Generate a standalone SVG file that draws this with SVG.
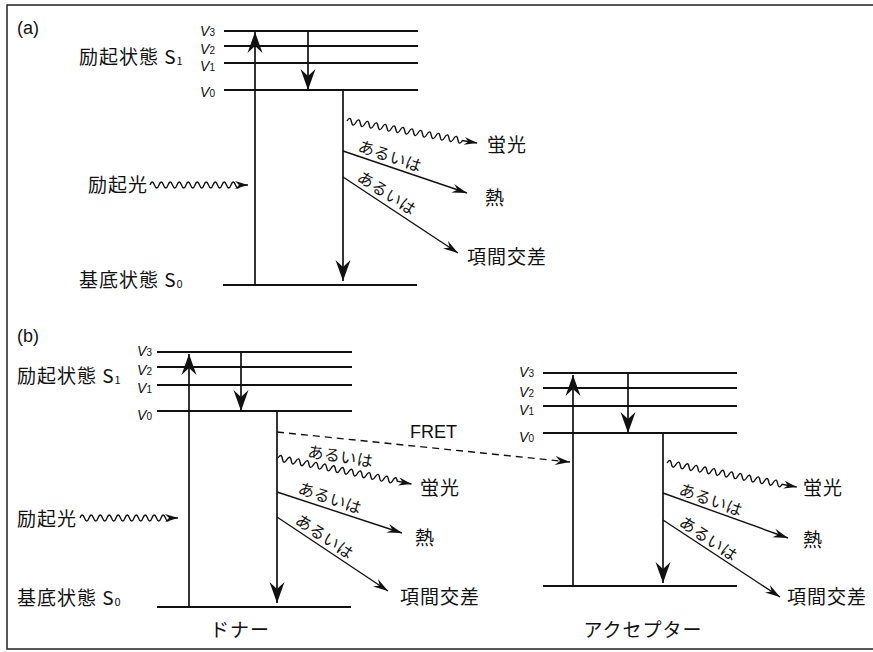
<svg xmlns="http://www.w3.org/2000/svg" width="873" height="652" viewBox="0 0 873 652">
<style>
.jp{font-family:"Noto Sans CJK JP","Noto Sans CJK SC",sans-serif;font-size:19px;letter-spacing:1px;fill:#111}
.sm{font-size:16px;letter-spacing:0.5px}
.v{font-family:"Liberation Sans",sans-serif;font-style:italic;font-size:14px;fill:#111}
.sub{font-style:normal;font-size:10px}
.lat{font-family:"Liberation Sans",sans-serif;font-size:18px;fill:#111}
.lv{stroke:#111;stroke-width:2;fill:none}
.vt{stroke:#111;stroke-width:1.7;fill:none}
.dg{stroke:#111;stroke-width:1.4;fill:none}
.wv{stroke:#111;stroke-width:1.4;fill:none}
.frame{stroke:#222;stroke-width:1.5;fill:none}
</style>
<defs>
<marker id="mb" markerUnits="userSpaceOnUse" viewBox="-24 -10 26 20" markerWidth="26" markerHeight="20" refX="0" refY="0" orient="auto" overflow="visible">
<path d="M0,0 L-21,-7.5 L-14,0 L-21,7.5 Z" fill="#111" stroke="none"/>
</marker>
<marker id="ms" markerUnits="userSpaceOnUse" viewBox="-18 -6 20 12" markerWidth="20" markerHeight="12" refX="0" refY="0" orient="auto" overflow="visible">
<path d="M0,0 L-15,-4.5 L-10,0 L-15,4.5 Z" fill="#111" stroke="none"/>
</marker>
<marker id="mw" markerUnits="userSpaceOnUse" viewBox="-16 -6 18 12" markerWidth="18" markerHeight="12" refX="0" refY="0" orient="auto" overflow="visible">
<path d="M0,0 L-13,-4 L-9,0 L-13,4 Z" fill="#111" stroke="none"/>
</marker>
</defs>
<rect width="873" height="652" fill="#fff"/>
<path class="frame" d="M873,5H7V649H873"/>

<g id="panel-a-labels">
<text class="lat" x="17" y="34">(a)</text>
<text class="jp" x="79" y="64">励起状態 S<tspan font-size="11" dy="1">1</tspan></text>
<text class="jp" x="88" y="192">励起光</text>
<text class="jp" x="79" y="287">基底状態 S<tspan font-size="11" dy="1">0</tspan></text>
</g>
<g id="a-levels">
<path class="lv" d="M224,31H418M224,46H418M224,63H418M224,90H418M223,285H417"/>
<text class="v" x="215" y="36" text-anchor="end">V<tspan class="sub">3</tspan></text>
<text class="v" x="215" y="54" text-anchor="end">V<tspan class="sub">2</tspan></text>
<text class="v" x="215" y="71" text-anchor="end">V<tspan class="sub">1</tspan></text>
<text class="v" x="215" y="97" text-anchor="end">V<tspan class="sub">0</tspan></text>
</g>
<g id="a-outcomes">
<text class="jp" x="487" y="152">蛍光</text>
<text class="jp" x="485" y="205">熱</text>
<text class="jp" x="467" y="264">項間交差</text>
</g>

<g id="panel-b-labels">
<text class="lat" x="17" y="342">(b)</text>
<text class="jp" x="17" y="383">励起状態 S<tspan font-size="11" dy="1">1</tspan></text>
<text class="jp" x="17" y="526">励起光</text>
<text class="jp" x="17" y="605">基底状態 S<tspan font-size="11" dy="1">0</tspan></text>
</g>
<g id="donor">
<path class="lv" d="M157,352H352M157,367H352M157,385H352M157,411H352M157,607H351"/>
<text class="v" x="152" y="356" text-anchor="end">V<tspan class="sub">3</tspan></text>
<text class="v" x="152" y="375" text-anchor="end">V<tspan class="sub">2</tspan></text>
<text class="v" x="152" y="393" text-anchor="end">V<tspan class="sub">1</tspan></text>
<text class="v" x="152" y="420" text-anchor="end">V<tspan class="sub">0</tspan></text>
<text class="jp" x="240" y="637" text-anchor="middle">ドナー</text>
<text class="jp" x="420" y="495">蛍光</text>
<text class="jp" x="415" y="545">熱</text>
<text class="jp" x="400" y="604">項間交差</text>
</g>
<g id="acceptor">
<path class="lv" d="M543,373H737M543,388H737M543,406H737M543,433H737M543,586H737"/>
<text class="v" x="534" y="377" text-anchor="end">V<tspan class="sub">3</tspan></text>
<text class="v" x="534" y="397" text-anchor="end">V<tspan class="sub">2</tspan></text>
<text class="v" x="534" y="415" text-anchor="end">V<tspan class="sub">1</tspan></text>
<text class="v" x="534" y="442" text-anchor="end">V<tspan class="sub">0</tspan></text>
<text class="jp" x="643" y="637" text-anchor="middle">アクセプター</text>
<text class="jp" x="803" y="495">蛍光</text>
<text class="jp" x="803" y="547">熱</text>
<text class="jp" x="787" y="604">項間交差</text>
</g>

<g id="connectors">
<!-- panel a -->
<path class="vt" d="M255,285V32" marker-end="url(#mb)"/>
<path class="vt" d="M308,31V90" marker-end="url(#mb)"/>
<path class="vt" d="M343,90V281" marker-end="url(#mb)"/>
<path class="dg" d="M343,151L467,193" marker-end="url(#ms)"/>
<path class="dg" d="M343,177L458,253" marker-end="url(#ms)"/>
<path class="wv" d="M150,185q2.25,-6 4.5,0t4.5,0t4.5,0t4.5,0t4.5,0t4.5,0t4.5,0t4.5,0t4.5,0t4.5,0t4.5,0t4.5,0t4.5,0t4.5,0t4.5,0t4.5,0t4.5,0t4.5,0t4.5,0t4.5,0L248,185" marker-end="url(#mw)"/>
<g transform="translate(347,121) rotate(9.6)">
<path class="wv" d="M0,0q2.25,-6 4.5,0t4.5,0t4.5,0t4.5,0t4.5,0t4.5,0t4.5,0t4.5,0t4.5,0t4.5,0t4.5,0t4.5,0t4.5,0t4.5,0t4.5,0t4.5,0t4.5,0t4.5,0t4.5,0t4.5,0t4.5,0t4.5,0t4.5,0t4.5,0t4.5,0t4.5,0L132,0" marker-end="url(#mw)"/>
</g>
<text class="jp sm" transform="translate(357,151) rotate(19)">あるいは</text>
<text class="jp sm" transform="translate(356,180) rotate(33)">あるいは</text>

<!-- donor -->
<path class="vt" d="M189,607V354" marker-end="url(#mb)"/>
<path class="vt" d="M241,352V411" marker-end="url(#mb)"/>
<path class="vt" d="M277,411V603" marker-end="url(#mb)"/>
<path class="dg" d="M277,492L402,533" marker-end="url(#ms)"/>
<path class="dg" d="M277,517L388,591" marker-end="url(#ms)"/>
<path class="wv" d="M80,518q2.25,-6 4.5,0t4.5,0t4.5,0t4.5,0t4.5,0t4.5,0t4.5,0t4.5,0t4.5,0t4.5,0t4.5,0t4.5,0t4.5,0t4.5,0t4.5,0t4.5,0t4.5,0t4.5,0t4.5,0t4.5,0L178,518" marker-end="url(#mw)"/>
<g transform="translate(278,458) rotate(11)">
<path class="wv" d="M0,0q2.25,-6 4.5,0t4.5,0t4.5,0t4.5,0t4.5,0t4.5,0t4.5,0t4.5,0t4.5,0t4.5,0t4.5,0t4.5,0t4.5,0t4.5,0t4.5,0t4.5,0t4.5,0t4.5,0t4.5,0t4.5,0t4.5,0t4.5,0t4.5,0t4.5,0t4.5,0t4.5,0t4.5,0L136,0" marker-end="url(#mw)"/>
</g>
<text class="jp sm" transform="translate(307,457) rotate(9)">あるいは</text>
<text class="jp sm" transform="translate(297,493) rotate(19)">あるいは</text>
<text class="jp sm" transform="translate(294,523) rotate(34)">あるいは</text>

<!-- FRET -->
<path class="dg" d="M277,432L570,462" stroke-dasharray="7,5" marker-end="url(#ms)"/>
<text class="lat" x="410" y="438" font-size="19">FRET</text>

<!-- acceptor -->
<path class="vt" d="M573,586V375" marker-end="url(#mb)"/>
<path class="vt" d="M628,373V433" marker-end="url(#mb)"/>
<path class="vt" d="M663,433V583" marker-end="url(#mb)"/>
<path class="dg" d="M663,493L788,538" marker-end="url(#ms)"/>
<path class="dg" d="M663,520L780,597" marker-end="url(#ms)"/>
<g transform="translate(667,463) rotate(10.5)">
<path class="wv" d="M0,0q2.25,-6 4.5,0t4.5,0t4.5,0t4.5,0t4.5,0t4.5,0t4.5,0t4.5,0t4.5,0t4.5,0t4.5,0t4.5,0t4.5,0t4.5,0t4.5,0t4.5,0t4.5,0t4.5,0t4.5,0t4.5,0t4.5,0t4.5,0t4.5,0t4.5,0t4.5,0t4.5,0L132,0" marker-end="url(#mw)"/>
</g>
<text class="jp sm" transform="translate(678,494) rotate(20)">あるいは</text>
<text class="jp sm" transform="translate(678,525) rotate(34)">あるいは</text>
</g>
</svg>
